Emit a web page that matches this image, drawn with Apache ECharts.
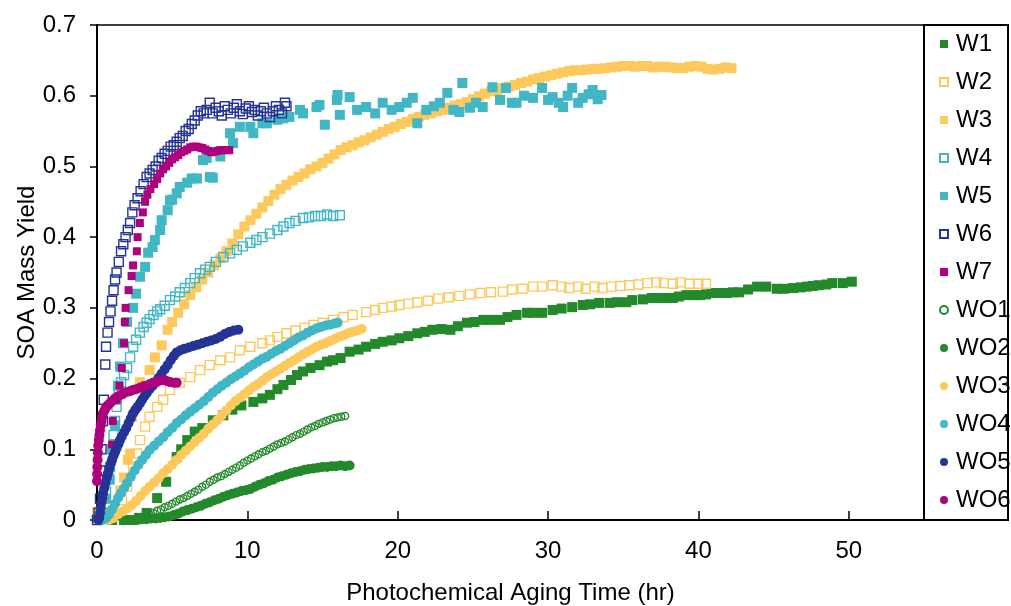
<!DOCTYPE html>
<html>
<head>
<meta charset="utf-8">
<script src="https://cdn.jsdelivr.net/npm/echarts@6/dist/echarts.min.js"></script>
<style>
  html, body { margin: 0; padding: 0; background: #fff; }
  #chart { width: 1011px; height: 606px; }
</style>
</head>
<body>
<div id="chart"></div>
<script>
// [time (hr), SOA mass yield]
const W1 = [[0,0.003],[1.0,0.0],[1.8,0.0],[2.3,0.0],[2.8,0.003],[3.3,0.01],[4.0,0.031],[4.6,0.054],[5.3,0.089],[5.6,0.1],[6.0,0.113],[6.5,0.125],[7.0,0.13],[7.7,0.141],[8.4,0.148],[9.0,0.156],[9.6,0.162],[10.4,0.167],[11.0,0.172],[11.5,0.177],[12.0,0.185],[12.4,0.191],[12.9,0.198],[13.3,0.205],[13.7,0.21],[14.2,0.215],[14.8,0.219],[15.3,0.224],[15.7,0.226],[16.2,0.229],[16.8,0.238],[17.4,0.241],[17.9,0.245],[18.5,0.249],[19.0,0.252],[19.6,0.254],[20.1,0.257],[20.7,0.26],[21.3,0.264],[21.8,0.266],[22.3,0.269],[22.9,0.27],[23.5,0.269],[24.0,0.274],[24.6,0.279],[25.1,0.28],[25.7,0.283],[26.2,0.283],[26.8,0.283],[27.3,0.287],[27.9,0.29],[28.6,0.293],[29.0,0.293],[29.6,0.293],[30.3,0.297],[30.9,0.299],[31.6,0.301],[32.3,0.304],[32.8,0.305],[33.4,0.307],[34.1,0.307],[34.6,0.308],[35.2,0.308],[35.6,0.311],[36.3,0.312],[36.9,0.314],[37.4,0.314],[37.9,0.314],[38.3,0.314],[38.7,0.316],[39.2,0.318],[39.7,0.318],[40.1,0.318],[40.5,0.319],[40.9,0.321],[41.4,0.321],[41.9,0.321],[42.3,0.322],[42.7,0.322],[43.3,0.326],[43.9,0.33],[44.5,0.33],[45.2,0.327],[45.7,0.327],[46.3,0.328],[46.8,0.329],[47.2,0.33],[47.6,0.331],[48.0,0.332],[48.5,0.333],[48.9,0.335],[49.6,0.335],[50.2,0.337]];
const W2 = [[1.3,0.005],[1.66,0.028],[2.0,0.047],[2.4,0.075],[2.66,0.094],[2.86,0.113],[3.2,0.132],[3.5,0.146],[4.0,0.16],[4.4,0.17],[4.85,0.184],[5.5,0.194],[6.2,0.202],[6.85,0.212],[7.5,0.219],[8.2,0.226],[8.85,0.23],[9.5,0.24],[10.2,0.245],[11.0,0.25],[11.5,0.254],[12.0,0.259],[12.6,0.264],[13.2,0.268],[13.8,0.272],[14.4,0.276],[15.0,0.279],[15.7,0.283],[16.4,0.287],[17.0,0.29],[17.9,0.294],[18.5,0.297],[19.0,0.3],[19.6,0.302],[20.1,0.304],[20.7,0.306],[21.3,0.308],[22.0,0.31],[22.7,0.313],[23.4,0.315],[24.1,0.317],[24.8,0.319],[25.5,0.321],[26.2,0.322],[27.0,0.323],[27.6,0.326],[28.3,0.327],[29.0,0.33],[29.6,0.33],[30.3,0.332],[30.9,0.33],[31.4,0.328],[32.0,0.33],[32.5,0.327],[33.1,0.33],[33.6,0.328],[34.2,0.33],[34.8,0.331],[35.4,0.332],[36.0,0.333],[36.6,0.335],[37.2,0.336],[37.7,0.335],[38.3,0.334],[38.8,0.336],[39.4,0.334],[40.0,0.334],[40.5,0.334]];
const W3 = [[0,0.012],[1.2,0.01],[1.55,0.042],[1.8,0.06],[2.05,0.085],[2.2,0.094],[2.35,0.146],[2.85,0.195],[3.5,0.212],[3.85,0.23],[4.3,0.247],[4.7,0.269],[5.0,0.28],[5.4,0.293],[5.8,0.305],[6.2,0.318],[6.6,0.329],[7.0,0.34],[7.4,0.35],[7.8,0.36],[8.2,0.37],[8.6,0.38],[9.0,0.391],[9.4,0.404],[9.8,0.415],[10.2,0.424],[10.6,0.433],[11.0,0.442],[11.4,0.451],[11.8,0.46],[12.2,0.468],[12.6,0.474],[13.0,0.48],[13.4,0.485],[13.8,0.49],[14.2,0.496],[14.6,0.5],[15.0,0.505],[15.4,0.511],[15.8,0.517],[16.2,0.523],[16.6,0.527],[17.0,0.53],[17.4,0.534],[17.8,0.537],[18.2,0.541],[18.6,0.545],[19.0,0.549],[19.4,0.553],[19.8,0.556],[20.2,0.56],[20.6,0.563],[21.0,0.567],[21.4,0.57],[21.8,0.573],[22.2,0.575],[22.6,0.578],[23.0,0.58],[23.4,0.583],[23.8,0.586],[24.2,0.588],[24.6,0.591],[25.0,0.595],[25.4,0.599],[25.8,0.603],[26.2,0.606],[26.6,0.608],[27.0,0.611],[27.4,0.613],[27.8,0.615],[28.2,0.618],[28.6,0.62],[29.0,0.623],[29.4,0.625],[29.8,0.627],[30.2,0.629],[30.6,0.631],[31.0,0.633],[31.4,0.635],[31.8,0.636],[32.2,0.636],[32.6,0.637],[33.0,0.638],[33.4,0.638],[33.8,0.639],[34.2,0.64],[34.6,0.641],[35.0,0.642],[35.4,0.642],[35.8,0.641],[36.2,0.642],[36.6,0.642],[37.0,0.64],[37.4,0.641],[37.8,0.641],[38.2,0.64],[38.6,0.639],[39.0,0.639],[39.4,0.641],[39.8,0.642],[40.2,0.641],[40.6,0.638],[41.0,0.637],[41.4,0.638],[41.8,0.64],[42.2,0.639]];
const W4 = [[0.4,0.01],[0.6,0.04],[0.75,0.06],[0.86,0.075],[1.0,0.1],[1.1,0.12],[1.2,0.14],[1.3,0.16],[1.45,0.18],[1.6,0.195],[1.8,0.205],[2.0,0.215],[2.2,0.23],[2.4,0.245],[2.6,0.255],[2.85,0.265],[3.1,0.273],[3.3,0.279],[3.5,0.284],[3.75,0.29],[4.0,0.295],[4.2,0.298],[4.5,0.303],[4.85,0.311],[5.2,0.316],[5.5,0.322],[5.85,0.328],[6.2,0.335],[6.5,0.342],[6.85,0.349],[7.2,0.354],[7.5,0.358],[7.9,0.365],[8.4,0.372],[8.85,0.377],[9.3,0.382],[9.7,0.387],[10.2,0.392],[10.6,0.396],[11.0,0.4],[11.5,0.405],[12.0,0.41],[12.4,0.415],[12.8,0.42],[13.2,0.423],[13.7,0.427],[14.1,0.428],[14.5,0.43],[14.9,0.43],[15.3,0.432],[15.7,0.43],[16.15,0.431]];
const W5 = [[0.3,0.01],[0.6,0.03],[0.85,0.057],[1.05,0.1],[1.2,0.134],[1.33,0.17],[1.4,0.19],[1.53,0.217],[1.73,0.25],[2.0,0.28],[2.4,0.3],[2.6,0.32],[2.86,0.344],[3.2,0.358],[3.4,0.378],[3.7,0.386],[3.85,0.396],[4.2,0.41],[4.3,0.424],[4.7,0.438],[4.85,0.452],[5.0,0.453],[5.3,0.462],[5.5,0.471],[6.0,0.477],[6.3,0.483],[6.65,0.483],[7.05,0.509],[7.3,0.512],[7.5,0.485],[7.7,0.484],[8.2,0.514],[8.85,0.547],[9.05,0.533],[9.5,0.556],[10.2,0.556],[10.4,0.547],[11.0,0.561],[11.3,0.561],[12.0,0.566],[12.4,0.568],[12.8,0.57],[13.5,0.58],[13.7,0.575],[14.6,0.584],[14.8,0.587],[15.15,0.559],[15.95,0.594],[16.0,0.601],[16.15,0.573],[16.8,0.598],[17.3,0.58],[17.9,0.584],[18.5,0.575],[19.0,0.59],[19.6,0.58],[20.1,0.584],[20.6,0.59],[21.0,0.597],[21.3,0.561],[21.9,0.58],[22.4,0.585],[22.8,0.59],[23.3,0.604],[23.7,0.58],[24.1,0.577],[24.3,0.618],[24.8,0.583],[25.2,0.59],[25.65,0.584],[26.3,0.612],[26.8,0.594],[27.2,0.611],[27.6,0.59],[27.9,0.59],[28.4,0.6],[29.0,0.597],[29.6,0.611],[30.0,0.594],[30.3,0.598],[30.7,0.59],[31.0,0.584],[31.3,0.6],[31.6,0.611],[32.0,0.59],[32.3,0.597],[32.7,0.602],[32.96,0.608],[33.3,0.595],[33.55,0.601]];
const W6 = [[0,0.0],[0.1,0.01],[0.2,0.03],[0.25,0.07],[0.3,0.1],[0.4,0.14],[0.45,0.17],[0.55,0.22],[0.6,0.245],[0.7,0.265],[0.8,0.28],[0.9,0.295],[1.0,0.31],[1.1,0.325],[1.2,0.34],[1.3,0.35],[1.45,0.365],[1.6,0.38],[1.75,0.39],[1.9,0.4],[2.05,0.41],[2.2,0.42],[2.35,0.435],[2.5,0.445],[2.7,0.455],[2.9,0.465],[3.1,0.475],[3.3,0.485],[3.5,0.49],[3.7,0.495],[3.9,0.5],[4.1,0.508],[4.3,0.512],[4.5,0.518],[4.7,0.522],[4.9,0.528],[5.1,0.53],[5.3,0.535],[5.5,0.54],[5.7,0.543],[5.9,0.55],[6.1,0.553],[6.3,0.56],[6.5,0.565],[6.7,0.572],[6.9,0.578],[7.1,0.575],[7.3,0.58],[7.5,0.59],[7.7,0.575],[7.9,0.583],[8.1,0.578],[8.3,0.572],[8.5,0.585],[8.7,0.58],[8.9,0.575],[9.1,0.583],[9.3,0.588],[9.5,0.578],[9.7,0.574],[9.9,0.582],[10.1,0.585],[10.3,0.577],[10.5,0.58],[10.7,0.572],[10.9,0.578],[11.1,0.583],[11.3,0.575],[11.5,0.57],[11.7,0.578],[11.9,0.585],[12.1,0.58],[12.3,0.575],[12.5,0.59],[12.6,0.585]];
const W7 = [[1.0,0.107],[1.05,0.14],[1.3,0.17],[1.5,0.19],[1.65,0.215],[1.8,0.25],[1.85,0.28],[1.9,0.3],[2.1,0.325],[2.3,0.345],[2.4,0.36],[2.65,0.38],[2.7,0.4],[2.85,0.42],[3.05,0.435],[3.2,0.45],[3.35,0.46],[3.55,0.468],[3.8,0.475],[4.0,0.482],[4.2,0.49],[4.4,0.496],[4.6,0.5],[4.8,0.505],[5.0,0.51],[5.2,0.513],[5.4,0.516],[5.6,0.52],[5.8,0.522],[6.0,0.524],[6.2,0.527],[6.4,0.528],[6.6,0.528],[6.8,0.527],[7.0,0.526],[7.2,0.524],[7.4,0.522],[7.6,0.52],[7.8,0.521],[8.0,0.522],[8.2,0.523],[8.4,0.523],[8.6,0.523],[8.8,0.523]];
const WO1 = [[2.5,0.0],[2.75,0.001],[3.0,0.003],[3.25,0.005],[3.5,0.008],[3.75,0.01],[4.0,0.013],[4.25,0.015],[4.5,0.018],[4.75,0.02],[5.0,0.023],[5.25,0.026],[5.5,0.029],[5.75,0.031],[6.0,0.034],[6.25,0.037],[6.5,0.04],[6.75,0.043],[7.0,0.047],[7.25,0.05],[7.5,0.054],[7.75,0.057],[8.0,0.06],[8.25,0.062],[8.5,0.065],[8.75,0.068],[9.0,0.071],[9.25,0.074],[9.5,0.077],[9.75,0.081],[10.0,0.084],[10.25,0.087],[10.5,0.09],[10.75,0.093],[11.0,0.096],[11.25,0.098],[11.5,0.101],[11.75,0.104],[12.0,0.107],[12.25,0.109],[12.5,0.111],[12.75,0.114],[13.0,0.117],[13.25,0.12],[13.5,0.122],[13.75,0.125],[14.0,0.128],[14.25,0.131],[14.5,0.133],[14.75,0.136],[15.0,0.138],[15.25,0.14],[15.5,0.142],[15.75,0.144],[16.0,0.145],[16.25,0.146],[16.5,0.147]];
const WO2 = [[1.8,0.0],[2.1,0.0],[2.4,0.0],[2.7,0.0],[3.0,0.001],[3.3,0.001],[3.6,0.002],[3.9,0.002],[4.2,0.003],[4.5,0.004],[4.8,0.005],[5.1,0.007],[5.4,0.009],[5.7,0.012],[6.0,0.014],[6.3,0.016],[6.6,0.018],[6.9,0.02],[7.2,0.023],[7.5,0.025],[7.8,0.028],[8.1,0.03],[8.4,0.033],[8.7,0.035],[9.0,0.037],[9.3,0.039],[9.6,0.041],[9.9,0.042],[10.2,0.044],[10.5,0.047],[10.8,0.05],[11.1,0.052],[11.4,0.055],[11.7,0.057],[12.0,0.06],[12.3,0.062],[12.6,0.064],[12.9,0.066],[13.2,0.068],[13.5,0.069],[13.8,0.071],[14.1,0.072],[14.4,0.073],[14.7,0.074],[15.0,0.075],[15.3,0.075],[15.6,0.076],[15.9,0.076],[16.2,0.077],[16.5,0.076],[16.8,0.077]];
const WO3 = [[0.8,0.0],[1.1,0.003],[1.4,0.008],[1.7,0.012],[2.0,0.016],[2.3,0.021],[2.6,0.027],[2.9,0.034],[3.2,0.041],[3.5,0.047],[3.8,0.053],[4.1,0.059],[4.4,0.066],[4.7,0.072],[5.0,0.078],[5.3,0.085],[5.6,0.092],[5.9,0.098],[6.2,0.104],[6.5,0.11],[6.8,0.116],[7.1,0.122],[7.4,0.129],[7.7,0.135],[8.0,0.141],[8.3,0.148],[8.6,0.155],[8.9,0.162],[9.2,0.168],[9.5,0.173],[9.8,0.178],[10.1,0.183],[10.4,0.188],[10.7,0.192],[11.0,0.197],[11.3,0.202],[11.6,0.206],[11.9,0.21],[12.2,0.214],[12.5,0.218],[12.8,0.222],[13.1,0.226],[13.4,0.23],[13.7,0.234],[14.0,0.238],[14.3,0.241],[14.6,0.245],[14.9,0.248],[15.2,0.25],[15.5,0.253],[15.8,0.256],[16.1,0.259],[16.4,0.261],[16.7,0.264],[17.0,0.266],[17.3,0.268],[17.6,0.27]];
const WO4 = [[0.4,0.0],[0.6,0.003],[0.8,0.008],[1.0,0.015],[1.2,0.023],[1.4,0.031],[1.6,0.038],[1.8,0.045],[2.0,0.052],[2.25,0.061],[2.5,0.07],[2.75,0.078],[3.0,0.085],[3.25,0.092],[3.5,0.099],[3.8,0.105],[4.1,0.111],[4.4,0.117],[4.7,0.124],[5.0,0.13],[5.3,0.137],[5.6,0.142],[5.9,0.148],[6.2,0.153],[6.5,0.158],[6.8,0.163],[7.1,0.168],[7.4,0.174],[7.7,0.18],[8.0,0.185],[8.3,0.19],[8.6,0.194],[8.9,0.199],[9.2,0.203],[9.5,0.207],[9.8,0.211],[10.1,0.216],[10.4,0.22],[10.7,0.224],[11.0,0.228],[11.3,0.231],[11.6,0.235],[11.9,0.239],[12.2,0.242],[12.5,0.246],[12.8,0.25],[13.1,0.254],[13.4,0.258],[13.7,0.261],[14.0,0.265],[14.3,0.268],[14.6,0.271],[14.9,0.273],[15.2,0.275],[15.5,0.276],[15.8,0.278],[16.0,0.279]];
const WO5 = [[0.1,0.0],[0.15,0.004],[0.2,0.01],[0.25,0.018],[0.3,0.025],[0.35,0.031],[0.4,0.038],[0.48,0.045],[0.56,0.052],[0.65,0.06],[0.73,0.066],[0.82,0.073],[0.92,0.08],[1.0,0.085],[1.1,0.091],[1.2,0.096],[1.3,0.101],[1.42,0.107],[1.53,0.113],[1.65,0.118],[1.8,0.124],[1.95,0.13],[2.1,0.137],[2.25,0.144],[2.4,0.151],[2.55,0.156],[2.7,0.16],[2.86,0.165],[3.0,0.17],[3.15,0.175],[3.32,0.18],[3.5,0.185],[3.7,0.19],[3.9,0.195],[4.1,0.201],[4.3,0.207],[4.5,0.213],[4.7,0.219],[4.9,0.226],[5.1,0.232],[5.3,0.237],[5.55,0.24],[5.8,0.242],[6.1,0.244],[6.4,0.246],[6.7,0.248],[7.0,0.25],[7.3,0.252],[7.6,0.254],[7.9,0.256],[8.2,0.259],[8.5,0.263],[8.8,0.266],[9.1,0.268],[9.4,0.269]];
const WO6 = [[0.0,0.055],[0.01,0.065],[0.02,0.075],[0.04,0.085],[0.06,0.095],[0.08,0.105],[0.12,0.113],[0.16,0.12],[0.2,0.127],[0.25,0.134],[0.3,0.14],[0.35,0.146],[0.4,0.151],[0.5,0.155],[0.6,0.159],[0.7,0.162],[0.86,0.165],[1.0,0.168],[1.15,0.171],[1.33,0.174],[1.5,0.176],[1.7,0.178],[1.99,0.181],[2.2,0.182],[2.4,0.184],[2.6,0.185],[2.86,0.187],[3.1,0.189],[3.3,0.19],[3.5,0.192],[3.72,0.194],[3.95,0.195],[4.15,0.197],[4.39,0.198],[4.6,0.197],[4.85,0.195],[5.1,0.194],[5.3,0.194]];

const xTicks = [0, 10, 20, 30, 40, 50];

const GREEN = '#24892a', YELLOW = '#fec95c', TEAL = '#41b6c4', NAVY = '#253494', MAGENTA = '#ae017e';
const FONT = 'Liberation Sans, Arial, sans-serif';

function filled(name, data, color, symbol, size) {
  return { name, type: 'scatter', data, symbol, symbolSize: size,
    itemStyle: { color: color, opacity: 1 } };
}
function hollow(name, data, color, symbol, size) {
  return { name, type: 'scatter', data, symbol, symbolSize: size,
    itemStyle: { color: 'rgba(255,255,255,0)', borderColor: color, borderWidth: 1.4, opacity: 1 } };
}

const chart = echarts.init(document.getElementById('chart'));
chart.setOption({
  animation: false,
  backgroundColor: '#fff',
  textStyle: { fontFamily: FONT },
  grid: { left: 97, top: 25, right: 87, bottom: 86, outerBoundsMode: 'none', containLabel: false,
    show: true, borderColor: '#000', borderWidth: 1.5 },
  xAxis: {
    type: 'value', min: 0, max: 55, interval: 10,
    name: 'Photochemical Aging Time (hr)', nameLocation: 'middle', nameGap: 61, nameMoveOverlap: false,
    nameTextStyle: { fontSize: 24, color: '#000', fontFamily: FONT },
    axisLine: { lineStyle: { color: '#000', width: 2 } },
    axisTick: { inside: true, length: 9, lineStyle: { color: '#000', width: 1.5 } },
    axisLabel: { fontSize: 24, color: '#000', margin: 19, showMaxLabel: false,
      formatter: v => (xTicks.indexOf(v) >= 0 ? String(v) : '') },
    splitLine: { show: false }
  },
  yAxis: {
    type: 'value', min: 0, max: 0.7, interval: 0.1,
    name: 'SOA Mass Yield', nameLocation: 'middle', nameGap: 58, nameMoveOverlap: false,
    nameTextStyle: { fontSize: 24, color: '#000', fontFamily: FONT },
    axisLine: { lineStyle: { color: '#000', width: 2 } },
    axisTick: { inside: false, length: 7, lineStyle: { color: '#000', width: 1.5 } },
    axisLabel: { fontSize: 24, color: '#000', margin: 21,
      formatter: v => String(Math.round(v * 10) / 10) },
    splitLine: { show: false }
  },
  legend: {
    orient: 'vertical', left: 939, top: 32, padding: 0,
    itemWidth: 8, itemHeight: 8, itemGap: 14,
    textStyle: { fontSize: 24, color: '#000', lineHeight: 24, fontFamily: FONT, padding: [0, 0, 0, 3] },
    data: ['W1','W2','W3','W4','W5','W6','W7','WO1','WO2','WO3','WO4','WO5','WO6']
  },
  graphic: [{
    type: 'rect', z: 100,
    shape: { x: 924, y: 25, width: 84, height: 495 },
    style: { fill: 'none', stroke: '#000', lineWidth: 2 }
  }],
  series: [
    filled('W1', W1, GREEN, 'rect', 10),
    hollow('W2', W2, YELLOW, 'rect', 9),
    filled('W3', W3, YELLOW, 'rect', 10),
    hollow('W4', W4, TEAL, 'rect', 9),
    filled('W5', W5, TEAL, 'rect', 10),
    hollow('W6', W6, NAVY, 'rect', 9),
    filled('W7', W7, MAGENTA, 'rect', 8),
    hollow('WO1', WO1, GREEN, 'circle', 7),
    filled('WO2', WO2, GREEN, 'circle', 10),
    filled('WO3', WO3, YELLOW, 'circle', 10),
    filled('WO4', WO4, TEAL, 'circle', 10),
    filled('WO5', WO5, NAVY, 'circle', 10),
    filled('WO6', WO6, MAGENTA, 'circle', 10)
  ]
});
</script>
</body>
</html>
